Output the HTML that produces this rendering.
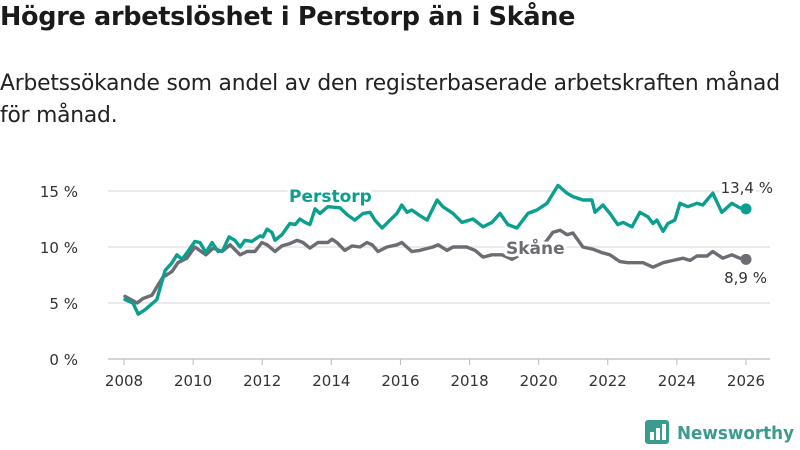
<!DOCTYPE html>
<html><head><meta charset="utf-8"><style>
body{margin:0;width:800px;height:450px;background:#fff;overflow:hidden;font-family:"Liberation Sans","DejaVu Sans",sans-serif}
h1{position:absolute;left:0;top:2px;margin:0;font-size:25.5px;font-weight:bold;color:#1a1a1a;font-family:"DejaVu Sans",sans-serif;letter-spacing:-0.3px;white-space:nowrap}
p{position:absolute;left:0;top:68px;margin:0;width:792px;font-size:21.8px;line-height:32px;color:#222;font-family:"DejaVu Sans",sans-serif;letter-spacing:-0.2px}
svg{position:absolute;left:0;top:0}
</style></head><body>
<h1>Högre arbetslöshet i Perstorp än i Skåne</h1>
<p>Arbetssökande som andel av den registerbaserade arbetskraften månad för månad.</p>
<svg id="c" width="800" height="450"></svg>
<script>
const yearTicks=[2008,2010,2012,2014,2016,2018,2020,2022,2024,2026];
const valueTicks=[0,5,10,15];
const valueTickLabels=["0 %","5 %","10 %","15 %"];
const perstorpDates=[2008.03,2008.26,2008.41,2008.61,2008.95,2009.19,2009.39,2009.53,2009.68,2009.85,2010.05,2010.2,2010.37,2010.55,2010.72,2010.86,2011.04,2011.21,2011.36,2011.5,2011.7,2011.94,2012.02,2012.14,2012.28,2012.37,2012.57,2012.8,2012.95,2013.09,2013.24,2013.38,2013.53,2013.67,2013.9,2014.25,2014.45,2014.68,2014.92,2015.12,2015.26,2015.47,2015.7,2015.9,2016.04,2016.19,2016.33,2016.56,2016.77,2017.06,2017.23,2017.52,2017.78,2018.1,2018.39,2018.65,2018.88,2019.11,2019.37,2019.69,2019.95,2020.24,2020.56,2020.82,2020.99,2021.28,2021.54,2021.63,2021.86,2022.06,2022.29,2022.44,2022.7,2022.93,2023.16,2023.31,2023.42,2023.6,2023.74,2023.94,2024.09,2024.32,2024.58,2024.75,2025.04,2025.3,2025.59,2025.82,2026.0];
const perstorpValues=[5.3,5.0,4.0,4.4,5.3,7.9,8.6,9.3,8.9,9.6,10.5,10.4,9.5,10.4,9.6,9.7,10.9,10.6,10.0,10.6,10.5,11.0,10.9,11.6,11.3,10.6,11.1,12.1,12.0,12.5,12.2,12.0,13.4,13.0,13.6,13.5,12.9,12.4,13.0,13.1,12.4,11.7,12.4,13.0,13.75,13.1,13.3,12.8,12.4,14.2,13.6,13.0,12.2,12.5,11.8,12.2,13.0,12.0,11.7,13.0,13.3,13.9,15.5,14.8,14.5,14.2,14.2,13.1,13.75,13.0,12.0,12.2,11.8,13.1,12.7,12.1,12.4,11.4,12.1,12.4,13.9,13.6,13.9,13.75,14.8,13.1,13.9,13.5,13.4];
const skaneDates=[2008.03,2008.38,2008.55,2008.81,2008.98,2009.13,2009.39,2009.56,2009.82,2010.05,2010.37,2010.58,2010.84,2011.07,2011.36,2011.56,2011.79,2011.99,2012.14,2012.37,2012.57,2012.8,2013.01,2013.18,2013.38,2013.61,2013.9,2014.02,2014.16,2014.39,2014.6,2014.83,2015.03,2015.18,2015.35,2015.61,2015.9,2016.04,2016.33,2016.56,2016.94,2017.09,2017.35,2017.52,2017.92,2018.16,2018.39,2018.65,2018.94,2019.23,2019.46,2019.75,2020.04,2020.24,2020.41,2020.62,2020.82,2020.99,2021.28,2021.57,2021.83,2022.06,2022.35,2022.58,2022.84,2023.02,2023.31,2023.6,2023.89,2024.18,2024.38,2024.58,2024.87,2025.04,2025.33,2025.59,2025.82,2026.0];
const skaneValues=[5.6,5.0,5.4,5.7,6.6,7.3,7.8,8.6,9.0,10.0,9.3,9.9,9.6,10.2,9.3,9.6,9.6,10.4,10.2,9.6,10.1,10.3,10.6,10.4,9.9,10.4,10.4,10.7,10.4,9.7,10.1,10.0,10.4,10.2,9.6,10.0,10.2,10.4,9.6,9.7,10.0,10.2,9.7,10.0,10.0,9.7,9.1,9.3,9.3,8.9,9.3,9.6,10.0,10.6,11.3,11.5,11.1,11.25,10.0,9.8,9.5,9.3,8.7,8.6,8.6,8.6,8.2,8.6,8.8,9.0,8.8,9.2,9.2,9.6,9.0,9.3,9.0,8.9];
const teal="#0a9f8f",gray="#6d6c72";
const svg=document.getElementById('c');const NS="http://www.w3.org/2000/svg";
const X=y=>124+(y-2008)*(622/18);
const Y=v=>359-v*11.2;
function mk(t,a,txt){const e=document.createElementNS(NS,t);for(const k in a)e.setAttribute(k,a[k]);if(txt!==undefined)e.textContent=txt;svg.appendChild(e);return e;}
valueTicks.forEach((v,i)=>{
 const g=mk('line',{x1:108,x2:770,y1:Y(v),y2:Y(v),stroke:v===0?'#bbb':'#ddd','stroke-width':1.3});
 
 
 const t=mk('text',{x:78,y:Y(v)+6,'text-anchor':'end','font-size':15,fill:'#333','font-family':'DejaVu Sans,sans-serif'},valueTickLabels[i]);
 
 
});
yearTicks.forEach(yr=>{
 const l=mk('line',{x1:X(yr),x2:X(yr),y1:359,y2:365,stroke:'#bbb'});
 
 
 const t=mk('text',{x:X(yr),y:386,'text-anchor':'middle','font-size':15,fill:'#333','font-family':'DejaVu Sans,sans-serif'},yr);
 
 
});
function series(d,v,c,name){
 const p=mk('path',{d:d.map((x,i)=>(i?'L':'M')+X(x).toFixed(1)+','+Y(v[i]).toFixed(1)).join(''),fill:'none',stroke:c,'stroke-width':3.4,'stroke-linejoin':'round','stroke-linecap':'round'});
 
 
 const n=d.length-1;
 const dot=mk('circle',{cx:X(d[n]),cy:Y(v[n]),r:5.5,fill:c});
 
 
}
series(skaneDates,skaneValues,gray,'skane');
series(perstorpDates,perstorpValues,teal,'perstorp');
function label(x,y,txt,c,name,bold,anchor){
 const a={x:x,y:y,'font-size':bold?17:15,'font-weight':bold?'bold':'normal',fill:c,'font-family':'DejaVu Sans,sans-serif','text-anchor':anchor||'start',stroke:'#fff','stroke-width':6,'paint-order':'stroke','stroke-linejoin':'round'};
 const t=mk('text',a,txt);
 
 
}
label(289,202,'Perstorp',teal,'perstorp-label',true);
label(506,254,'Skåne',gray,'skane-label',true);
label(773,193,'13,4 %','#333','perstorp-end-value',false,'end');
label(767,283,'8,9 %','#333','skane-end-value',false,'end');
const lg=mk('g',{});


const r=document.createElementNS(NS,'rect');r.setAttribute('x',645);r.setAttribute('y',420);r.setAttribute('width',24);r.setAttribute('height',24);r.setAttribute('rx',3);r.setAttribute('fill','#3a9b8e');lg.appendChild(r);
[[650,432,4,8],[656,428,4,12],[662,424,4,16]].forEach(b=>{const e=document.createElementNS(NS,'rect');e.setAttribute('x',b[0]);e.setAttribute('y',b[1]);e.setAttribute('width',b[2]);e.setAttribute('height',b[3]);e.setAttribute('fill','#fff');lg.appendChild(e);});
const lt=document.createElementNS(NS,'text');lt.setAttribute('x',677);lt.setAttribute('y',439);lt.setAttribute('font-size',18);lt.setAttribute('font-weight','bold');lt.setAttribute('fill','#3a9b8e');lt.setAttribute('font-family','DejaVu Sans,sans-serif');lt.setAttribute('textLength',117);lt.setAttribute('lengthAdjust','spacingAndGlyphs');lt.textContent='Newsworthy';lg.appendChild(lt);
</script>
</body></html>
